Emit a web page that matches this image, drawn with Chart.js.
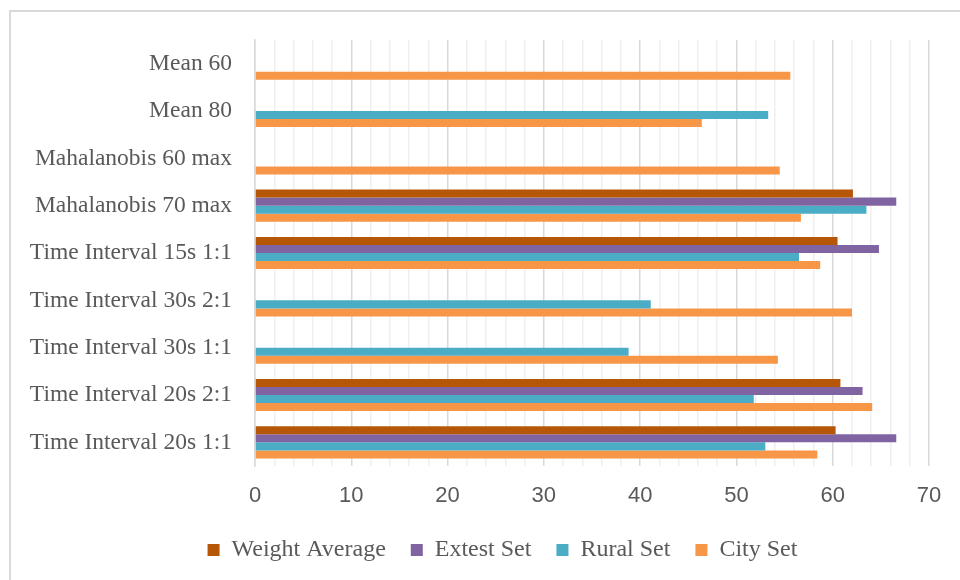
<!DOCTYPE html>
<html>
<head>
<meta charset="utf-8">
<script src="https://cdn.jsdelivr.net/npm/chart.js@4/dist/chart.umd.min.js"></script>
<style>
  html, body { margin: 0; padding: 0; background: #ffffff; }
  #wrap { width: 960px; height: 580px; }
</style>
</head>
<body>
<div id="wrap"><canvas id="chart" width="960" height="580"></canvas></div>
<script>
// Accuracy (%) per configuration, listed top to bottom
const categories = [
  'Mean 60',
  'Mean 80',
  'Mahalanobis 60 max',
  'Mahalanobis 70 max',
  'Time Interval 15s 1:1',
  'Time Interval 30s 2:1',
  'Time Interval 30s 1:1',
  'Time Interval 20s 2:1',
  'Time Interval 20s 1:1'
];
const weightAverage = [null, null, null, 62.1, 60.5, null, null, 60.8, 60.3];
const extestSet     = [null, null, null, 66.6, 64.8, null, null, 63.1, 66.6];
const ruralSet      = [null, 53.3, null, 63.5, 56.5, 41.1, 38.8, 51.8, 53.0];
const citySet       = [55.6, 46.4, 54.5, 56.7, 58.7, 62.0, 54.3, 64.1, 58.4];
const xTicks = [0, 10, 20, 30, 40, 50, 60, 70];

const TEXT = '#595959';

// Light frame along the top and left edges of the figure
const framePlugin = {
  id: 'frame',
  beforeDraw(chart) {
    const ctx = chart.ctx;
    ctx.save();
    ctx.fillStyle = '#ffffff';
    ctx.fillRect(0, 0, chart.width, chart.height);
    ctx.strokeStyle = '#d9d9d9';
    ctx.lineWidth = 2;
    ctx.beginPath();
    ctx.moveTo(10, chart.height + 5);
    ctx.lineTo(10, 11);
    ctx.lineTo(chart.width + 5, 11);
    ctx.stroke();
    ctx.restore();
  }
};

// Centre the legend row under the frame rather than the whole canvas
const legendShift = {
  id: 'legendShift',
  afterLayout(chart) {
    if (chart.legend) chart.legend.left = 76;
  }
};

const series = [
  { label: 'Weight Average', data: weightAverage, color: '#B65708' },
  { label: 'Extest Set',     data: extestSet,     color: '#8064A2' },
  { label: 'Rural Set',      data: ruralSet,      color: '#4BACC6' },
  { label: 'City Set',       data: citySet,       color: '#F79646' }
];

new Chart(document.getElementById('chart'), {
  type: 'bar',
  data: {
    labels: categories,
    datasets: series.map(s => ({
      label: s.label,
      data: s.data,
      backgroundColor: s.color,
      borderWidth: 0,
      categoryPercentage: 0.68,
      barPercentage: 1.0
    }))
  },
  plugins: [framePlugin, legendShift],
  options: {
    indexAxis: 'y',
    responsive: false,
    animation: false,
    devicePixelRatio: 1,
    layout: { padding: { left: 0, right: 31, top: 40, bottom: 8 } },
    scales: {
      x: {
        min: 0,
        max: 70,
        afterBuildTicks(scale) {
          const t = [];
          for (let v = 0; v <= 70; v += 2) t.push({ value: v });
          scale.ticks = t;
        },
        afterFit(scale) { scale.height = 47; },
        grid: {
          drawTicks: false,
          lineWidth: 1.5,
          color: ctx => (ctx.tick && xTicks.includes(ctx.tick.value)) ? '#d9d9d9' : '#efefef'
        },
        border: { display: false },
        ticks: {
          autoSkip: false,
          maxRotation: 0,
          padding: 17,
          color: TEXT,
          font: { family: 'Liberation Sans', size: 22 },
          callback: v => xTicks.includes(v) ? String(v) : ''
        }
      },
      y: {
        afterFit(scale) { scale.width = 255; },
        grid: { display: false, drawTicks: false },
        border: { display: true, color: '#d9d9d9', width: 1.5 },
        ticks: {
          padding: 23,
          color: TEXT,
          font: { family: 'Liberation Serif', size: 23.5 }
        }
      }
    },
    plugins: {
      legend: {
        position: 'bottom',
        labels: {
          boxWidth: 12,
          boxHeight: 12,
          padding: 25,
          color: TEXT,
          font: { family: 'Liberation Serif', size: 24 }
        }
      },
      tooltip: { enabled: false }
    }
  }
});
</script>
</body>
</html>
